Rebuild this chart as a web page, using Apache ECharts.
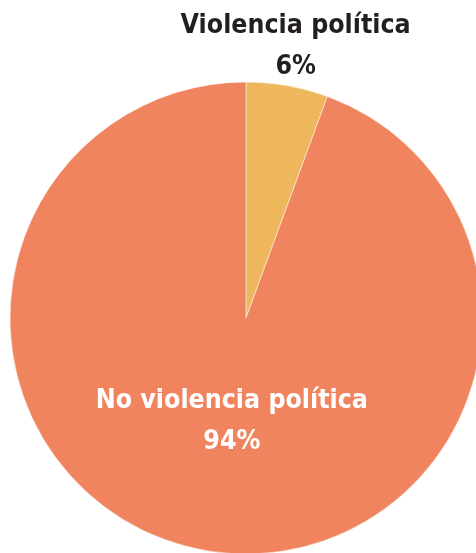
<!DOCTYPE html>
<html>
<head>
<meta charset="utf-8">
<script src="https://cdn.jsdelivr.net/npm/echarts@6/dist/echarts.min.js"></script>
<style>
html,body{margin:0;padding:0;background:#fff;}
#chart{width:476px;height:553px;}
</style>
</head>
<body>
<div id="chart"></div>
<script>
const categories = ['Violencia política', 'No violencia política'];
const values = [5.6, 94.4];
const colors = ['#EEB75C', '#F0845F'];

const FONT = "'Liberation Sans Narrow', 'DejaVu Sans Condensed', 'Roboto Condensed', sans-serif";
const chart = echarts.init(document.getElementById('chart'));
chart.setOption({
  animation: false,
  series: [{
    type: 'pie',
    center: [246, 318],
    radius: 236,
    startAngle: 90,
    clockwise: true,
    percentPrecision: 0,
    itemStyle: { borderColor: 'rgba(255,255,255,0.5)', borderWidth: 1 },
    label: {
      formatter: '{b}\n{d}%',
      fontFamily: FONT,
      fontWeight: 'bold',
      fontSize: 26.5,
      lineHeight: 41,
      overflow: 'none'
    },
    labelLayout: function (p) {
      if (p.dataIndex === 0) return { align: 'center', verticalAlign: 'bottom', dx: 3, dy: 4 };
      return { dx: 7, dy: -16 };
    },
    data: [
      { name: categories[0], value: values[0], itemStyle: { color: colors[0] },
        label: { position: 'outside', color: '#231F20' },
        labelLine: { show: false, length: 2, length2: 0 } },
      { name: categories[1], value: values[1], itemStyle: { color: colors[1] },
        label: { position: 'inside', color: '#ffffff' } }
    ]
  }]
});
</script>
</body>
</html>
